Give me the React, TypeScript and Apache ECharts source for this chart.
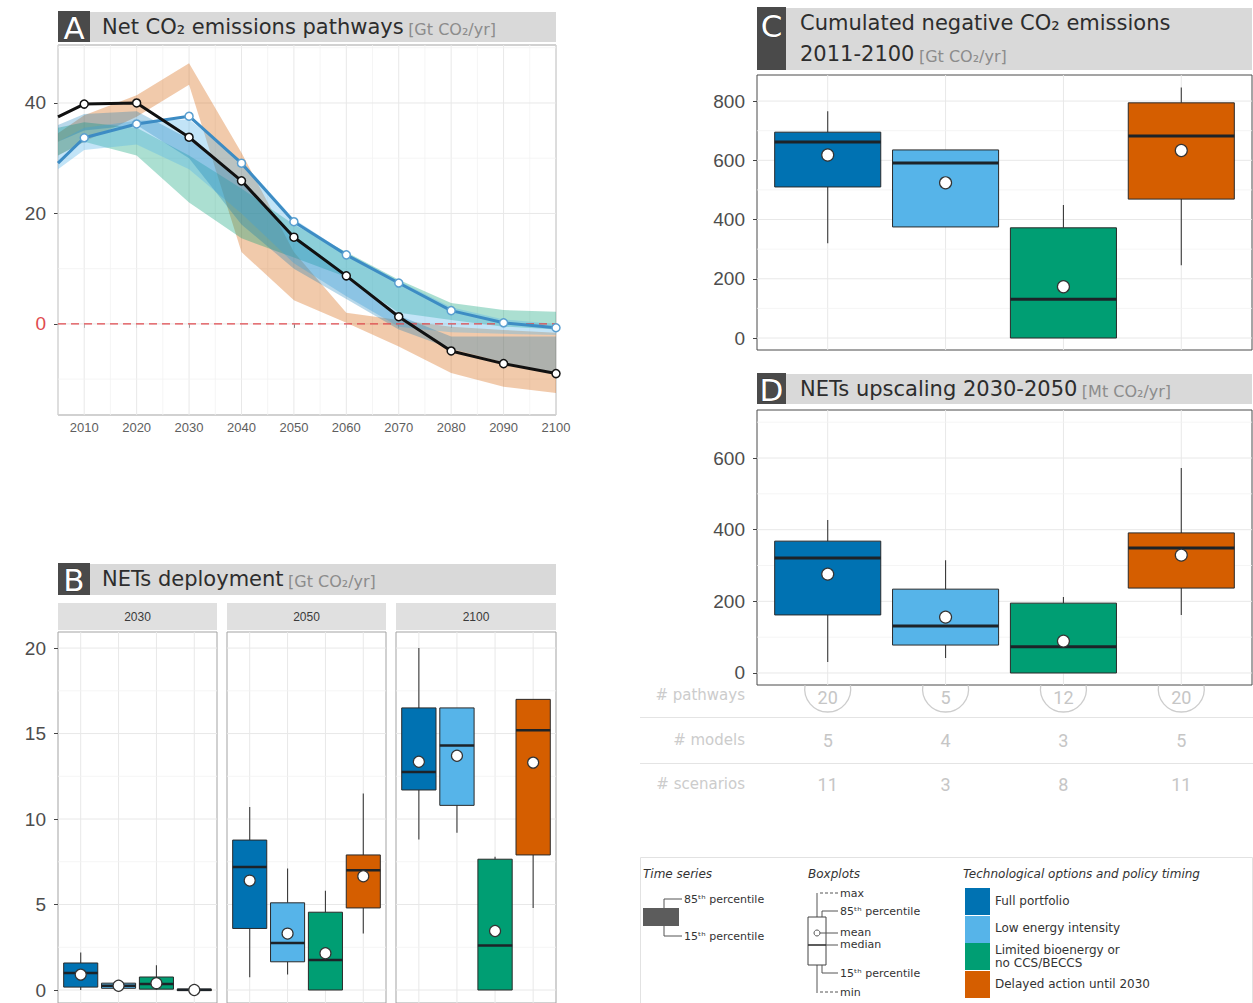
import React, { useEffect, useRef } from 'react';
import * as echarts from 'echarts';

// ---------- shared ----------
const scenarioLabels = [['Full portfolio'], ['Low energy intensity'], ['Limited bioenergy or', 'no CCS/BECCS'], ['Delayed action until 2030']];
const scenarioColors = ['#0072B2', '#56B4E9', '#009E73', '#D55E00'];
const categoryPositions = [1, 2, 3, 4];
const categoryRange = [0.4, 4.6];

// ---------- panel A ----------
const yearsA = [2005, 2010, 2020, 2030, 2040, 2050, 2060, 2070, 2080, 2090, 2100];
const blackLine = [37.5, 39.8, 40, 33.8, 25.9, 15.7, 8.7, 1.3, -4.9, -7.2, -9.0];
const blueLine = [29.1, 33.7, 36.2, 37.6, 29.1, 18.5, 12.5, 7.4, 2.4, 0.2, -0.7];
const bandDelayedLo = [30.5, 33, 37.5, 43.3, 13, 4.3, 0.2, -4.1, -8.9, -11.4, -12.5];
const bandDelayedHi = [34.5, 37.8, 41.4, 47.2, 31, 13, 2, 0.7, -0.5, -1.1, -1.6];
const bandLimitedLo = [30.5, 33, 30.5, 22, 15.5, 12, 8.5, 2, 0.7, -0.5, -1];
const bandLimitedHi = [35.5, 36.5, 35.5, 30.5, 24.5, 18, 13, 8, 3.8, 2.5, 2.2];
const bandLowEnergyLo = [28, 31.5, 32.5, 28, 20, 11, 5, -0.5, -1.5, -1.8, -2];
const bandLowEnergyHi = [33, 35.5, 36.8, 37, 29.5, 19, 12.8, 7.8, 3, 0.8, 0];
const bandFullLo = [33, 35, 36, 30, 18, 10, 4.5, -1, -4.5, -7, -8.8];
const bandFullHi = [36, 38, 38.5, 33.5, 25.5, 16, 9, 1.5, -2.3, -2.3, -2.3];
const zeroLevel = 0;
const rangeAX = [2005, 2100];
const rangeAY = [-16.5, 50.5];
const ticksAX = [2010, 2020, 2030, 2040, 2050, 2060, 2070, 2080, 2090, 2100];
const minorAX = [2005, 2015, 2025, 2035, 2045, 2055, 2065, 2075, 2085, 2095];
const ticksAY = [0, 20, 40];
const minorAY = [-10, 10, 30, 50];

// ---------- panel B ----------
const facetYears = ['2030', '2050', '2100'];
// [min, p15, median, p85, max, mean]
const netsB2030 = [
  [0.0, 0.17, 1.0, 1.58, 2.2, 0.9],
  [0.1, 0.1, 0.25, 0.4, 0.45, 0.25],
  [0.0, 0.05, 0.35, 0.76, 1.45, 0.4],
  [0.0, 0.0, 0.02, 0.05, 0.05, 0.0],
];
const netsB2050 = [
  [0.75, 3.6, 7.2, 8.77, 10.7, 6.4],
  [0.9, 1.65, 2.75, 5.1, 7.1, 3.3],
  [0.0, 0.0, 1.75, 4.55, 5.8, 2.15],
  [3.3, 4.8, 7.0, 7.9, 11.5, 6.65],
];
const netsB2100 = [
  [8.8, 11.7, 12.75, 16.5, 20.0, 13.35],
  [9.2, 10.8, 14.3, 16.5, 16.5, 13.7],
  [0.0, 0.0, 2.6, 7.65, 7.8, 3.45],
  [4.8, 7.9, 15.2, 17.0, 17.0, 13.3],
];
const rangeBY = [-0.76, 20.94];
const ticksBY = [0, 5, 10, 15, 20];
const minorBY = [2.5, 7.5, 12.5, 17.5];

// ---------- panel C ----------
const cumulatedC = [
  [320, 510, 662, 695, 766, 618],
  [375, 375, 591, 635, 635, 524],
  [0, 0, 131, 372, 449, 173],
  [246, 469, 682, 794, 846, 633],
];
const rangeCY = [-40.5, 888];
const ticksCY = [0, 200, 400, 600, 800];
const minorCY = [100, 300, 500, 700];

// ---------- panel D ----------
const upscalingD = [
  [31, 162, 321, 368, 427, 276],
  [42, 78, 131, 234, 315, 156],
  [0, 0, 73, 195, 212, 89],
  [162, 237, 349, 391, 572, 329],
];
const rangeDY = [-33.5, 734];
const ticksDY = [0, 200, 400, 600];
const minorDY = [100, 300, 500, 700];

// ---------- table ----------
const tableRowLabels = ['# pathways', '# models', '# scenarios'];
const pathwaysCount = [20, 5, 12, 20];
const modelsCount = [5, 4, 3, 5];
const scenariosCount = [11, 3, 8, 11];

const SANS = 'DejaVu Sans';
const AX = 'Liberation Sans';

function gridLines(idx: number, xr: number[], yr: number[], xMajor: number[], xMinor: number[], yMajor: number[], yMinor: number[]) {
  const data: number[][] = [];
  xMajor.forEach((v) => data.push([v, yr[0], 0, 1]));
  xMinor.forEach((v) => data.push([v, yr[0], 0, 0]));
  yMajor.forEach((v) => data.push([xr[0], v, 1, 1]));
  yMinor.forEach((v) => data.push([xr[0], v, 1, 0]));
  return {
    type: 'custom', xAxisIndex: idx, yAxisIndex: idx, z: 1, silent: true, clip: false,
    data,
    renderItem: (params: any, api: any) => {
      const kind = api.value(2);
      const major = api.value(3);
      let p1, p2;
      if (kind === 0) {
        const v = api.value(0);
        p1 = api.coord([v, yr[0]]); p2 = api.coord([v, yr[1]]);
      } else {
        const v = api.value(1);
        p1 = api.coord([xr[0], v]); p2 = api.coord([xr[1], v]);
      }
      return {
        type: 'line',
        shape: { x1: p1[0], y1: p1[1], x2: p2[0], y2: p2[1] },
        style: { stroke: major ? '#e8e8e8' : '#f3f3f3', lineWidth: major ? 1 : 0.8 },
      };
    },
  };
}

function boxSeries(idx: number, stats: number[][], medW: number, meanR: number) {
  return {
    type: 'custom', xAxisIndex: idx, yAxisIndex: idx, z: 3, silent: true, clip: false,
    data: stats.map((s, i) => [categoryPositions[i], s[0], s[1], s[2], s[3], s[4], s[5], i]),
    renderItem: (params: any, api: any) => {
      const x = api.value(0);
      const c = (k: number) => api.coord([x, api.value(k)]);
      const pMin = c(1), pQ1 = c(2), pMed = c(3), pQ3 = c(4), pMax = c(5), pMean = c(6);
      const col = scenarioColors[api.value(7)];
      const w = api.size([0.9, 0])[0];
      const left = pMed[0] - w / 2;
      const h = Math.max(pQ1[1] - pQ3[1], 1.5);
      const children: any[] = [];
      if (pMax[1] < pQ3[1] - 0.5) {
        children.push({ type: 'line', shape: { x1: pMax[0], y1: pMax[1], x2: pQ3[0], y2: pQ3[1] }, style: { stroke: '#3a3a3a', lineWidth: 1.1 } });
      }
      if (pMin[1] > pQ1[1] + 0.5) {
        children.push({ type: 'line', shape: { x1: pQ1[0], y1: pQ1[1], x2: pMin[0], y2: pMin[1] }, style: { stroke: '#3a3a3a', lineWidth: 1.1 } });
      }
      children.push({ type: 'rect', shape: { x: left, y: pQ3[1], width: w, height: h }, style: { fill: col, stroke: '#2a2a2a', lineWidth: 1 } });
      children.push({ type: 'line', shape: { x1: left, y1: pMed[1], x2: left + w, y2: pMed[1] }, style: { stroke: '#1d2328', lineWidth: medW } });
      children.push({ type: 'circle', shape: { cx: pMean[0], cy: pMean[1], r: meanR }, style: { fill: '#ffffff', stroke: '#333333', lineWidth: 1.2 } });
      return { type: 'group', children };
    },
  };
}

function txt(x: number, y: number, text: string, o: any = {}) {
  const align = o.align || 'left';
  const va = o.va || 'middle';
  return {
    type: 'text', x, y, silent: true, z: 10,
    style: {
      text,
      fill: o.color || '#333',
      fontSize: o.size || 12,
      fontFamily: o.family || SANS,
      fontStyle: o.italic ? 'italic' : 'normal',
      fontWeight: o.weight || 'normal',
      stroke: o.stroke,
      lineWidth: o.lineWidth,
      rich: o.rich,
      align, verticalAlign: va, textAlign: align, textVerticalAlign: va,
    },
  };
}

const richTitle = {
  t: { fontSize: 21, fontFamily: SANS, fill: '#2d2d2d', color: '#2d2d2d', verticalAlign: 'bottom' },
  u: { fontSize: 16, fontFamily: SANS, fill: '#8c8c8c', color: '#8c8c8c', verticalAlign: 'bottom' },
};

function titleBlock(x: number, y: number, w: number, h: number, letterW: number, letter: string, letterY: number) {
  return [
    { type: 'rect', z: 5, silent: true, shape: { x: x + letterW, y, width: w - letterW, height: h }, style: { fill: '#d9d9d9' } },
    { type: 'rect', z: 6, silent: true, shape: { x, y: y - 1, width: letterW, height: h + 1 }, style: { fill: '#4a4a4a' } },
    txt(x + letterW / 2, letterY, letter, { size: 31, color: '#ffffff', align: 'center', stroke: '#222', lineWidth: 0.6 }),
  ];
}

function buildOption() {
  const bandsA = [
    { lo: bandDelayedLo, hi: bandDelayedHi, fill: 'rgba(213,94,0,0.33)' },
    { lo: bandLimitedLo, hi: bandLimitedHi, fill: 'rgba(0,158,115,0.33)' },
    { lo: bandLowEnergyLo, hi: bandLowEnergyHi, fill: 'rgba(86,180,233,0.36)' },
    { lo: bandFullLo, hi: bandFullHi, fill: 'rgba(0,114,178,0.28)' },
  ];

  const gridCommon = { show: true, backgroundColor: '#ffffff', borderWidth: 1, containLabel: false, outerBoundsMode: 'none' };
  const grids = [
    { ...gridCommon, left: 58, top: 45, width: 498, height: 370, borderColor: '#a3a3a3' },
    { ...gridCommon, left: 58, top: 632, width: 159, height: 371, borderColor: '#a3a3a3' },
    { ...gridCommon, left: 227, top: 632, width: 159, height: 371, borderColor: '#a3a3a3' },
    { ...gridCommon, left: 396, top: 632, width: 160, height: 371, borderColor: '#a3a3a3' },
    { ...gridCommon, left: 757, top: 75, width: 495, height: 275, borderColor: '#4a4a4a' },
    { ...gridCommon, left: 757, top: 410, width: 495, height: 275, borderColor: '#4a4a4a' },
  ];

  const onlyIn = (list: number[]) => (v: any) => (list.indexOf(Number(v)) >= 0 ? String(Number(v)) : '');
  const catX = (gi: number) => ({ gridIndex: gi, type: 'value', min: categoryRange[0], max: categoryRange[1], show: false });
  const valY = (gi: number, r: number[], ticks: number[] | null, size: number) => ({
    gridIndex: gi, type: 'value', min: r[0], max: r[1],
    show: true,
    axisLine: { show: false },
    splitLine: { show: false },
    axisTick: ticks ? { show: true, customValues: ticks, length: 4, lineStyle: { color: '#444' } } : { show: false },
    axisLabel: ticks
      ? { show: true, customValues: ticks, formatter: onlyIn(ticks), fontSize: size, fontFamily: AX, color: '#4d4d4d', margin: 12 }
      : { show: false },
  });

  const xAxes = [
    {
      gridIndex: 0, type: 'value', min: rangeAX[0], max: rangeAX[1],
      axisLine: { show: false }, splitLine: { show: false },
      axisTick: { show: true, customValues: ticksAX, length: 4, lineStyle: { color: '#444' } },
      axisLabel: { customValues: ticksAX, formatter: onlyIn(ticksAX), fontSize: 13, fontFamily: AX, color: '#5e5e5e', margin: 6 },
    },
    catX(1), catX(2), catX(3), catX(4), catX(5),
  ];
  const yA: any = valY(0, rangeAY, ticksAY, 19);
  yA.axisLabel.color = (v: any) => (Number(v) === 0 ? '#e0494e' : '#4d4d4d');
  const yAxes = [
    yA,
    valY(1, rangeBY, ticksBY, 19),
    valY(2, rangeBY, null, 19),
    valY(3, rangeBY, null, 19),
    valY(4, rangeCY, ticksCY, 19),
    valY(5, rangeDY, ticksDY, 19),
  ];

  const lineData = (vals: number[]) => yearsA.map((yr, i) => (i === 0 ? { value: [yr, vals[i]], symbol: 'none' } : { value: [yr, vals[i]] }));

  const series: any[] = [
    gridLines(0, rangeAX, rangeAY, ticksAX, minorAX, ticksAY, minorAY),
    gridLines(1, categoryRange, rangeBY, categoryPositions, [], ticksBY, minorBY),
    gridLines(2, categoryRange, rangeBY, categoryPositions, [], ticksBY, minorBY),
    gridLines(3, categoryRange, rangeBY, categoryPositions, [], ticksBY, minorBY),
    gridLines(4, categoryRange, rangeCY, categoryPositions, [], ticksCY, minorCY),
    gridLines(5, categoryRange, rangeDY, categoryPositions, [], ticksDY, minorDY),
    {
      type: 'custom', xAxisIndex: 0, yAxisIndex: 0, z: 2, silent: true, clip: true,
      data: bandsA.map((b, i) => [2050, 0, i]),
      renderItem: (params: any, api: any) => {
        const b = bandsA[api.value(2)];
        const top = yearsA.map((yr, k) => api.coord([yr, b.hi[k]]));
        const bot = yearsA.map((yr, k) => api.coord([yr, b.lo[k]])).reverse();
        return { type: 'polygon', shape: { points: top.concat(bot) }, style: { fill: b.fill } };
      },
    },
    {
      type: 'line', xAxisIndex: 0, yAxisIndex: 0, z: 4, silent: true, symbol: 'none',
      data: [[rangeAX[0], zeroLevel], [rangeAX[1], zeroLevel]],
      lineStyle: { color: '#e0494e', width: 1.2, type: [8, 5] },
    },
    {
      type: 'line', xAxisIndex: 0, yAxisIndex: 0, z: 5, silent: true,
      data: lineData(blueLine), symbol: 'circle', symbolSize: 8,
      lineStyle: { color: '#3d8cc4', width: 3 },
      itemStyle: { color: '#ffffff', borderColor: '#5a9fd0', borderWidth: 1.5 },
    },
    {
      type: 'line', xAxisIndex: 0, yAxisIndex: 0, z: 6, silent: true,
      data: lineData(blackLine), symbol: 'circle', symbolSize: 8,
      lineStyle: { color: '#111111', width: 3 },
      itemStyle: { color: '#ffffff', borderColor: '#111111', borderWidth: 1.5 },
    },
    boxSeries(1, netsB2030, 2.5, 5.5),
    boxSeries(2, netsB2050, 2.5, 5.5),
    boxSeries(3, netsB2100, 2.5, 5.5),
    boxSeries(4, cumulatedC, 3, 6),
    boxSeries(5, upscalingD, 3, 6),
    {
      type: 'custom', xAxisIndex: 5, yAxisIndex: 5, z: 3, silent: true, clip: false,
      data: pathwaysCount.map((p, i) => [categoryPositions[i], rangeDY[0], p, modelsCount[i], scenariosCount[i]]),
      renderItem: (params: any, api: any) => {
        const pt = api.coord([api.value(0), api.value(1)]);
        const x = pt[0];
        const base = pt[1];
        const t = (y: number, s: any) => ({
          type: 'text', x, y,
          style: { text: String(s), fill: '#c6c6c6', fontSize: 18, fontFamily: 'Roboto', align: 'center', verticalAlign: 'middle', textAlign: 'center', textVerticalAlign: 'middle' },
        });
        return {
          type: 'group',
          children: [
            { type: 'arc', shape: { cx: x, cy: base + 4, r: 23, startAngle: -0.17, endAngle: Math.PI + 0.17, clockwise: true }, style: { stroke: '#cdcdcd', fill: 'none', lineWidth: 1.3 } },
            t(base + 12, api.value(2)),
            t(base + 55, api.value(3)),
            t(base + 99, api.value(4)),
          ],
        };
      },
    },
  ];

  const graphics: any[] = [];
  // titles
  graphics.push(...titleBlock(58, 12, 498, 30, 32, 'A', 28));
  graphics.push(txt(102, 27, '{t|Net CO₂ emissions pathways} {u|[Gt CO₂/yr]}', { size: 14, rich: richTitle, va: 'middle' }));
  graphics.push(...titleBlock(58, 564, 498, 31, 32, 'B', 580));
  graphics.push(txt(102, 579, '{t|NETs deployment} {u|[Gt CO₂/yr]}', { size: 14, rich: richTitle }));
  graphics.push(...titleBlock(757, 8, 495, 62, 29, 'C', 26));
  graphics.push(txt(800, 23, '{t|Cumulated negative CO₂ emissions}', { size: 14, rich: richTitle }));
  graphics.push(txt(800, 54, '{t|2011-2100} {u|[Gt CO₂/yr]}', { size: 14, rich: richTitle }));
  graphics.push(...titleBlock(757, 374, 495, 30, 29, 'D', 390));
  graphics.push(txt(800, 389, '{t|NETs upscaling 2030-2050} {u|[Mt CO₂/yr]}', { size: 14, rich: richTitle }));

  // facet strips
  const stripX = [58, 227, 396];
  const stripW = [159, 159, 160];
  facetYears.forEach((yr, i) => {
    graphics.push({ type: 'rect', z: 5, silent: true, shape: { x: stripX[i], y: 603, width: stripW[i], height: 27 }, style: { fill: '#e0e0e0' } });
    graphics.push(txt(stripX[i] + stripW[i] / 2, 617, yr, { size: 12, family: AX, color: '#3a3a3a', align: 'center' }));
  });

  // table
  graphics.push({ type: 'line', silent: true, shape: { x1: 640, y1: 717.5, x2: 1253, y2: 717.5 }, style: { stroke: '#e4e4e4', lineWidth: 1 } });
  graphics.push({ type: 'line', silent: true, shape: { x1: 640, y1: 763.5, x2: 1253, y2: 763.5 }, style: { stroke: '#e4e4e4', lineWidth: 1 } });
  const rowY = [695, 740, 784];
  tableRowLabels.forEach((l, i) => graphics.push(txt(745, rowY[i], l, { size: 15, color: '#cccccc', align: 'right' })));

  // legend frame
  graphics.push({ type: 'rect', silent: true, shape: { x: 640.5, y: 857.5, width: 612, height: 150 }, style: { fill: 'none', stroke: '#e2e2e2', lineWidth: 1 } });
  // time series
  graphics.push(txt(643, 874, 'Time series', { italic: true, size: 12 }));
  graphics.push({ type: 'rect', silent: true, shape: { x: 643, y: 908, width: 36, height: 18 }, style: { fill: '#5c5c5c' } });
  graphics.push({ type: 'polyline', silent: true, shape: { points: [[664, 908], [664, 899], [682, 899]] }, style: { stroke: '#555', fill: 'none', lineWidth: 1 } });
  graphics.push({ type: 'polyline', silent: true, shape: { points: [[664, 926], [664, 936], [682, 936]] }, style: { stroke: '#555', fill: 'none', lineWidth: 1 } });
  graphics.push(txt(684, 899, '85ᵗʰ percentile', { size: 11 }));
  graphics.push(txt(684, 936, '15ᵗʰ percentile', { size: 11 }));
  // boxplots
  graphics.push(txt(808, 874, 'Boxplots', { italic: true, size: 12 }));
  graphics.push({ type: 'line', silent: true, shape: { x1: 817, y1: 893, x2: 817, y2: 993 }, style: { stroke: '#555', lineWidth: 1 } });
  graphics.push({ type: 'rect', silent: true, shape: { x: 808, y: 917, width: 18, height: 48 }, style: { fill: '#ffffff', stroke: '#444', lineWidth: 1 } });
  graphics.push({ type: 'line', silent: true, shape: { x1: 808, y1: 945, x2: 826, y2: 945 }, style: { stroke: '#333', lineWidth: 1.6 } });
  graphics.push({ type: 'circle', silent: true, shape: { cx: 817, cy: 933, r: 3 }, style: { fill: '#fff', stroke: '#555', lineWidth: 1 } });
  const dash = (y: number) => ({ type: 'line', silent: true, shape: { x1: 820, y1: y, x2: 838, y2: y }, style: { stroke: '#555', lineWidth: 1, lineDash: [3, 2] } });
  graphics.push(dash(893), dash(992));
  graphics.push({ type: 'polyline', silent: true, shape: { points: [[822, 917], [822, 911], [838, 911]] }, style: { stroke: '#555', fill: 'none', lineWidth: 1 } });
  graphics.push({ type: 'polyline', silent: true, shape: { points: [[822, 965], [822, 973], [838, 973]] }, style: { stroke: '#555', fill: 'none', lineWidth: 1 } });
  graphics.push({ type: 'line', silent: true, shape: { x1: 820, y1: 933, x2: 838, y2: 933 }, style: { stroke: '#555', lineWidth: 1 } });
  graphics.push({ type: 'line', silent: true, shape: { x1: 826, y1: 945, x2: 838, y2: 945 }, style: { stroke: '#555', lineWidth: 1 } });
  graphics.push(txt(840, 893, 'max', { size: 11 }));
  graphics.push(txt(840, 911, '85ᵗʰ percentile', { size: 11 }));
  graphics.push(txt(840, 932, 'mean', { size: 11 }));
  graphics.push(txt(840, 944, 'median', { size: 11 }));
  graphics.push(txt(840, 973, '15ᵗʰ percentile', { size: 11 }));
  graphics.push(txt(840, 992, 'min', { size: 11 }));
  // scenarios
  graphics.push(txt(963, 874, 'Technological options and policy timing', { italic: true, size: 12 }));
  const swatchTop = [888, 916, 943, 971];
  const labelY = [[901], [928], [950, 963], [984]];
  scenarioLabels.forEach((lines, i) => {
    graphics.push({ type: 'rect', silent: true, shape: { x: 965, y: swatchTop[i], width: 25, height: 27 }, style: { fill: scenarioColors[i] } });
    lines.forEach((l, k) => graphics.push(txt(995, labelY[i][k], l, { size: 12 })));
  });

  return {
    animation: false,
    backgroundColor: '#ffffff',
    grid: grids,
    xAxis: xAxes,
    yAxis: yAxes,
    series,
    graphic: { elements: graphics },
  };
}

export default function App() {
  const ref = useRef<HTMLDivElement>(null);
  useEffect(() => {
    const chart = echarts.init(ref.current as HTMLDivElement, null, { renderer: 'svg', width: 1253, height: 1003 });
    chart.setOption(buildOption() as any);
    return () => chart.dispose();
  }, []);
  return <div ref={ref} style={{ position: 'absolute', left: 0, top: 0, width: 1253, height: 1003, background: '#fff' }} />;
}
